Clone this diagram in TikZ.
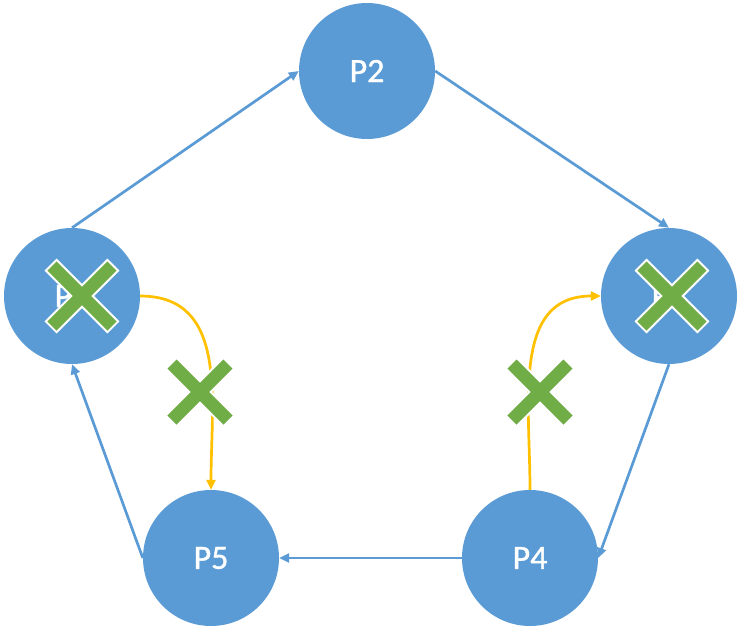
\documentclass[tikz,border=0pt]{standalone}
\usepackage{fontspec}
\setmainfont{Carlito}
\newfontfamily\procfont{Carlito}[RawFeature={embolden=1.2}]
\usetikzlibrary{positioning,arrows.meta,calc}
\definecolor{procblue}{HTML}{5B9BD5}
\definecolor{killgreen}{HTML}{70AD47}
\definecolor{msgyellow}{HTML}{FFC000}
\tikzset{
  proc/.style={circle,fill=procblue,minimum size=136pt,inner sep=0pt,
    text=white,font=\procfont\fontsize{34}{38}\selectfont},
  ring/.style={-{Triangle[length=10pt,width=9pt]},line width=2.7pt,procblue},
  msg/.style={-{Triangle[length=10pt,width=9pt]},line width=2.7pt,msgyellow},
  crossout/.style={line width=17pt,white,shorten <=-2pt,shorten >=-2pt},
  crossin/.style={line width=13pt,killgreen},
}

\begin{document}
\begin{tikzpicture}[x=1pt,y=-1pt]
  \useasboundingbox (0,0) rectangle (740,630);
  \node[proc] (p2) at (367,71) {P2};
  \node[proc] (p1) at (72,296) {P1};
  \node[proc] (p3) at (669,296) {P3};
  \node[proc] (p4) at (530,558) {P4};
  \node[proc] (p5) at (211,558) {P5};

  \draw[ring] (p1.north) -- (p2.west);
  \draw[ring] (p2.east) -- (p3.north);
  \draw[ring] (p3.south) -- (p4.east);
  \draw[ring] (p4.west) -- (p5.east);
  \draw[ring] (p5.west) -- (p1.south);

  \draw[msg] (p1.east) to[out=0,in=90,looseness=1.1] (p5.north);
  \draw[msg] (p4.north) to[out=90,in=180,looseness=1.1] (p3.west);

  % crossed out processes and messages
  \foreach \x/\y/\d in {82/296/30, 672/296/30, 200/392/28, 540/392/28} {
    \coordinate (c) at (\x,\y);
    \draw[crossout] ($(c)+(-\d,-\d)$) -- ($(c)+(\d,\d)$);
    \draw[crossout] ($(c)+(-\d,\d)$) -- ($(c)+(\d,-\d)$);
    \draw[crossin] ($(c)+(-\d,-\d)$) -- ($(c)+(\d,\d)$);
    \draw[crossin] ($(c)+(-\d,\d)$) -- ($(c)+(\d,-\d)$);
  }
\end{tikzpicture}
\end{document}
